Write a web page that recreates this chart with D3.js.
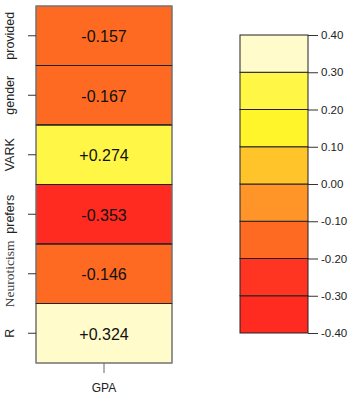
<!DOCTYPE html>
<html><head><meta charset="utf-8">
<script src="https://cdn.jsdelivr.net/npm/d3@7"></script>
<style>body{margin:0;background:#fff}svg{display:block}</style>
</head><body><svg id="c" width="360" height="410"></svg>
<script>
const rows = ["provided","gender","VARK","prefers","Neuroticism","R"];
const values = [-0.157,-0.167,0.274,-0.353,-0.146,0.324];
const cellLabels = ["-0.157","-0.167","+0.274","-0.353","-0.146","+0.324"];
const columns = ["GPA"];
const legendBreaks = [-0.4,-0.3,-0.2,-0.1,0,0.1,0.2,0.3,0.4];
const legendTickLabels = ["-0.40","-0.30","-0.20","-0.10","0.00","0.10","0.20","0.30","0.40"];
const palette = ["#FF2A20","#FF3522","#FF6A22","#FF9428","#FFC42A","#FFF52A","#FFF645","#FFFBCB"];

const svg = d3.select("#c");
const color = d3.scaleThreshold().domain(legendBreaks.slice(1,-1)).range(palette);

const x = d3.scaleBand().domain(columns).range([36,172]);
const y = d3.scaleBand().domain(rows).range([6,363]);

const g = svg.append("g");
g.selectAll("rect.cell").data(rows).join("rect")
  .attr("x", x("GPA")).attr("y", d=>y(d))
  .attr("width", x.bandwidth()).attr("height", y.bandwidth())
  .attr("fill", (d,i)=>color(values[i]))
  .attr("stroke","#222").attr("stroke-width",1);
g.append("rect").attr("x",36).attr("y",6).attr("width",136).attr("height",357)
  .attr("fill","none").attr("stroke","#999").attr("stroke-width",1);
g.selectAll("line.sep").data(rows.slice(1)).join("line")
  .attr("x1",36).attr("x2",172).attr("y1",d=>y(d)).attr("y2",d=>y(d))
  .attr("stroke","#222").attr("stroke-width",1.2);
g.selectAll("text.val").data(rows).join("text")
  .attr("x", x("GPA")+x.bandwidth()/2).attr("y", d=>y(d)+y.bandwidth()/2+1)
  .attr("text-anchor","middle").attr("dominant-baseline","central")
  .attr("font-family","Liberation Sans, Arial, sans-serif").attr("font-size",16).attr("fill","#111")
  .text((d,i)=>cellLabels[i]);

g.selectAll("line.yt").data(rows).join("line")
  .attr("x1",28).attr("x2",36).attr("y1",d=>y(d)+y.bandwidth()/2).attr("y2",d=>y(d)+y.bandwidth()/2)
  .attr("stroke","#333");
g.selectAll("text.yl").data(rows).join("text")
  .attr("transform", d=>`translate(14,${y(d)+y.bandwidth()/2}) rotate(-90)`)
  .attr("text-anchor","middle")
  .attr("font-family", d=> d==="Neuroticism" ? "Liberation Serif, Times New Roman, serif" : "Liberation Sans, Arial, sans-serif")
  .attr("font-size", d=> d==="Neuroticism" ? 13.5 : 12.5)
  .attr("fill", d=> d==="Neuroticism" ? "#3a3a3a" : "#222")
  .text(d=>d);

g.append("line").attr("x1",x("GPA")+x.bandwidth()/2).attr("x2",x("GPA")+x.bandwidth()/2)
  .attr("y1",363).attr("y2",373).attr("stroke","#666");
g.append("text").attr("x",x("GPA")+x.bandwidth()/2).attr("y",392).attr("text-anchor","middle")
  .attr("font-family","Liberation Sans, Arial, sans-serif").attr("font-size",12).attr("fill","#222").text("GPA");

const ly = d3.scaleLinear().domain([-0.4,0.4]).range([333,35]);
const lg = svg.append("g");
lg.selectAll("rect").data(palette).join("rect")
  .attr("x",240).attr("width",68)
  .attr("y",(d,i)=>ly(legendBreaks[i+1])).attr("height",(d,i)=>ly(legendBreaks[i])-ly(legendBreaks[i+1]))
  .attr("fill",d=>d).attr("stroke","#222").attr("stroke-width",1);
const axis = d3.axisRight(ly).tickValues(legendBreaks).tickSize(10)
  .tickFormat((d,i)=>legendTickLabels[i]);
const ag = lg.append("g").attr("transform","translate(308,0)").call(axis);
ag.select(".domain").remove();
ag.selectAll(".tick line").attr("stroke","#333");
ag.selectAll(".tick text").attr("x",13).attr("font-family","Liberation Sans, Arial, sans-serif").attr("font-size",11.5).attr("fill","#222");
</script></body></html>
